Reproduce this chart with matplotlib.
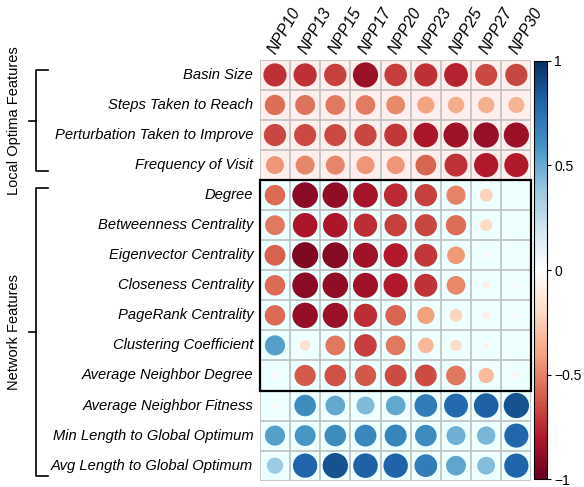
import matplotlib
matplotlib.use("Agg")
import matplotlib.pyplot as plt
import matplotlib.transforms as mtransforms
from matplotlib.colors import LinearSegmentedColormap, Normalize
from matplotlib.patches import Circle, Rectangle
from matplotlib.cm import ScalarMappable
import numpy as np

plt.rcParams['font.family'] = ['Liberation Sans', 'DejaVu Sans']

cols = ["NPP10", "NPP13", "NPP15", "NPP17", "NPP20", "NPP23", "NPP25", "NPP27", "NPP30"]
local_feats = ["Basin Size", "Steps Taken to Reach", "Perturbation Taken to Improve",
               "Frequency of Visit"]
net_feats = ["Degree", "Betweenness Centrality", "Eigenvector Centrality",
             "Closeness Centrality", "PageRank Centrality", "Clustering Coefficient",
             "Average Neighbor Degree", "Average Neighbor Fitness",
             "Min Length to Global Optimum", "Avg Length to Global Optimum"]

basin_size   = [-0.73, -0.73, -0.68, -0.86, -0.69, -0.73, -0.77, -0.66, -0.67]
steps_reach  = [-0.56, -0.54, -0.53, -0.52, -0.48, -0.40, -0.37, -0.36, -0.35]
perturbation = [-0.67, -0.66, -0.66, -0.67, -0.71, -0.82, -0.85, -0.87, -0.86]
freq_visit   = [-0.44, -0.49, -0.49, -0.44, -0.44, -0.58, -0.72, -0.80, -0.79]
degree       = [-0.57, -0.90, -0.89, -0.83, -0.75, -0.68, -0.50, -0.23, -0.02]
betweenness  = [-0.53, -0.82, -0.82, -0.74, -0.68, -0.67, -0.56, -0.20, -0.02]
eigenvector  = [-0.59, -0.93, -0.91, -0.85, -0.79, -0.71, -0.43, -0.05, 0.03]
closeness    = [-0.57, -0.90, -0.89, -0.85, -0.80, -0.72, -0.48, -0.08, -0.04]
pagerank     = [-0.57, -0.88, -0.86, -0.74, -0.58, -0.41, -0.22, -0.08, -0.04]
clustering   = [0.55, -0.16, -0.53, -0.69, -0.53, -0.33, -0.18, -0.07, -0.02]
avg_nb_deg   = [-0.05, -0.61, -0.64, -0.62, -0.65, -0.65, -0.53, -0.32, -0.06]
avg_nb_fit   = [-0.05, 0.63, 0.52, 0.44, 0.52, 0.70, 0.78, 0.82, 0.87]
min_len_opt  = [0.55, 0.59, 0.63, 0.65, 0.66, 0.63, 0.49, 0.46, 0.79]
avg_len_opt  = [0.36, 0.80, 0.87, 0.82, 0.81, 0.70, 0.53, 0.43, 0.80]

corr = np.array([basin_size, steps_reach, perturbation, freq_visit,
                 degree, betweenness, eigenvector, closeness, pagerank,
                 clustering, avg_nb_deg, avg_nb_fit, min_len_opt, avg_len_opt])
rows = local_feats + net_feats
n_local = len(local_feats)
boxed = (4, 10)  # Degree .. Average Neighbor Degree

cmap = LinearSegmentedColormap.from_list("corr", [
    "#67001F", "#B2182B", "#D6604D", "#F4A582", "#FDDBC7", "#FFFFFF",
    "#D1E5F0", "#92C5DE", "#4393C3", "#2166AC", "#053061"])
norm = Normalize(-1, 1)

fig = plt.figure(figsize=(5.84, 4.87), dpi=100)
ax = fig.add_axes([0.445, 0.013, 0.465, 0.864])
nr, nc = corr.shape
ax.set_xlim(-0.5, nc - 0.5)
ax.set_ylim(nr - 0.5, -0.5)

# row-group backgrounds
ax.add_patch(Rectangle((-0.5, -0.5), nc, n_local, facecolor="#FFEEEE", edgecolor='none', zorder=0))
ax.add_patch(Rectangle((-0.5, n_local - 0.5), nc, nr - n_local, facecolor="#EEFFFF", edgecolor='none', zorder=0))

for k in range(nr + 1):
    ax.axhline(k - 0.5, color="#C0C0C0", lw=1.2, zorder=1)
for k in range(nc + 1):
    ax.axvline(k - 0.5, color="#C0C0C0", lw=1.2, zorder=1)

# circle area scales with |r|
for i in range(nr):
    for j in range(nc):
        v = corr[i, j]
        ax.add_patch(Circle((j, i), 0.45 * np.sqrt(abs(v)), facecolor=cmap(norm(v)),
                            edgecolor='none', zorder=2))

ax.add_patch(Rectangle((-0.5, boxed[0] - 0.5), nc, boxed[1] - boxed[0] + 1,
                       fill=False, edgecolor='black', lw=1.6, zorder=3, clip_on=False))

for s in ax.spines.values():
    s.set_visible(False)
ax.set_xticks([])
ax.set_yticks([])

for i, name in enumerate(rows):
    ax.text(-0.72, i, name, ha='right', va='center', fontsize=10.6, style='italic')
for j, name in enumerate(cols):
    ax.text(j + 0.12, -0.6, name, rotation=60, rotation_mode='anchor',
            ha='left', va='bottom', fontsize=11.5, style='italic')

# group brackets on the left
tr = mtransforms.blended_transform_factory(fig.transFigure, ax.transData)
groups = [("Local Optima Features", -0.15, n_local - 1 + 0.2),
          ("Network Features", n_local - 0.25, nr - 1 + 0.35)]
xv, xh, xt = 0.061, 0.082, 0.049
for label, y0, y1 in groups:
    ax.plot([xh, xv, xv, xh], [y0, y0, y1, y1], color='black', lw=1.2,
            transform=tr, clip_on=False)
    ym = (y0 + y1) / 2
    ax.plot([xt, xv], [ym, ym], color='black', lw=1.2, transform=tr, clip_on=False)
    ax.text(0.024, ym, label, rotation=90, ha='center', va='center',
            fontsize=10.5, transform=tr)

cax = fig.add_axes([0.915, 0.016, 0.022, 0.859])
cb = fig.colorbar(ScalarMappable(norm=norm, cmap=cmap), cax=cax)
cb.set_ticks([-1, -0.5, 0, 0.5, 1])
cb.set_ticklabels(["\u22121", "\u22120.5", "0", "0.5", "1"])
cb.ax.tick_params(labelsize=10, length=3, width=0.8, pad=2)
cb.outline.set_linewidth(0.8)

fig.savefig("out.png", dpi=100)
